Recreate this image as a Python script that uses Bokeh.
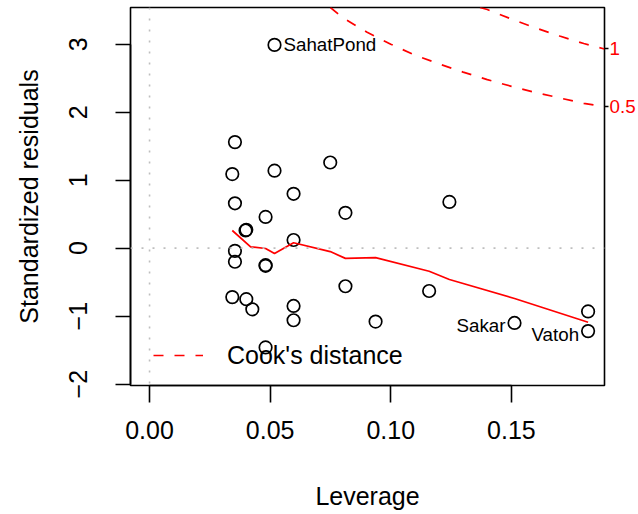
from bokeh.plotting import figure
from bokeh.models import Range1d, LinearAxis, FixedTicker, Legend, LegendItem, Span
from bokeh.embed import file_html
from bokeh.resources import INLINE
from bokeh.core.properties import value

# ---- data ----
leverage = [0.0354, 0.0343, 0.0518, 0.0749, 0.0354, 0.0597, 0.0481, 0.0812, 0.1243,
            0.0398, 0.0401, 0.0597, 0.0354, 0.0354, 0.0481, 0.0481, 0.0812, 0.1159,
            0.0343, 0.0401, 0.0426, 0.0597, 0.0597, 0.0937, 0.1513, 0.1818, 0.1818,
            0.0481, 0.0518]
std_resid = [1.56, 1.09, 1.14, 1.26, 0.66, 0.80, 0.46, 0.52, 0.68,
             0.26, 0.27, 0.12, -0.04, -0.20, -0.25, -0.26, -0.56, -0.63,
             -0.72, -0.75, -0.90, -0.85, -1.06, -1.08, -1.10, -0.93, -1.22,
             -1.46, 2.99]
labels_right = ["SahatPond"]
labels_right_idx = [28]
labels_left = ["Sakar", "Vatoh"]
labels_left_idx = [24, 26]

smooth_h = [0.0343, 0.0419, 0.0481, 0.0518, 0.0597, 0.0749, 0.0812, 0.0937, 0.1159, 0.1243, 0.1513, 0.1818]
smooth_r = [0.26, 0.02, -0.005, -0.08, 0.08, -0.05, -0.15, -0.14, -0.34, -0.46, -0.74, -1.09]

cook05_h = [0.075, 0.08, 0.09, 0.10, 0.11, 0.12, 0.13, 0.14, 0.15, 0.16, 0.17, 0.18, 0.1886]
cook05_r = [3.54, 3.39, 3.18, 3.00, 2.84, 2.71, 2.59, 2.48, 2.38, 2.29, 2.21, 2.13, 2.08]
cook1_h = [0.137, 0.14, 0.15, 0.16, 0.17, 0.18, 0.1886]
cook1_r = [3.54, 3.51, 3.37, 3.24, 3.12, 3.01, 2.93]
cook_levels = ["0.5", "1"]

x_ticks = [0.0, 0.05, 0.10, 0.15]
x_tick_labels = ["0.00", "0.05", "0.10", "0.15"]
y_ticks = [-2, -1, 0, 1, 2, 3]
y_tick_labels = ["\u22122", "\u22121", "0", "1", "2", "3"]

FONT = "Liberation Sans"

p = figure(width=638, height=514, output_backend="svg", toolbar_location=None,
           x_range=Range1d(-0.0079, 0.1886), y_range=Range1d(-2.02, 3.54),
           x_axis_location=None, y_axis_location=None,
           min_border_left=130, min_border_right=34, min_border_top=7, min_border_bottom=129)
p.grid.visible = False
p.outline_line_color = "black"
p.outline_line_width = 1.6
p.background_fill_color = "white"
p.border_fill_color = "white"

def style_axis(ax):
    ax.axis_line_color = "black"
    ax.axis_line_width = 1.6
    ax.major_tick_line_color = "black"
    ax.major_tick_line_width = 1.6
    ax.major_tick_in = 0
    ax.minor_tick_line_color = None
    ax.major_label_text_font = FONT
    ax.major_label_text_font_size = "25px"
    ax.major_label_text_color = "black"
    ax.axis_label_text_font = FONT
    ax.axis_label_text_font_size = "25px"
    ax.axis_label_text_font_style = "normal"
    ax.axis_label_text_color = "black"

xax = LinearAxis(ticker=FixedTicker(ticks=x_ticks), bounds=(x_ticks[0], x_ticks[-1]),
                 axis_label="Leverage")
xax.major_label_overrides = {t: l for t, l in zip(x_ticks, x_tick_labels)}
style_axis(xax)
xax.major_tick_out = 17
xax.major_label_standoff = 18
xax.axis_label_standoff = 40
p.add_layout(xax, "below")

yax = LinearAxis(ticker=FixedTicker(ticks=y_ticks), bounds=(y_ticks[0], y_ticks[-1]),
                 axis_label="Standardized residuals")
yax.major_label_overrides = {t: l for t, l in zip(y_ticks, y_tick_labels)}
style_axis(yax)
yax.major_tick_out = 15
yax.major_label_standoff = 28
yax.major_label_orientation = "vertical"
yax.axis_label_standoff = 24
p.add_layout(yax, "left")

# right axis with Cook's levels
rax = LinearAxis(ticker=FixedTicker(ticks=[cook05_r[-1], cook1_r[-1]]))
rax.major_label_overrides = {cook05_r[-1]: cook_levels[0], cook1_r[-1]: cook_levels[1]}
rax.axis_line_color = None
rax.major_tick_in = 0
rax.major_tick_out = 4
rax.major_tick_line_color = "black"
rax.major_tick_line_width = 1.6
rax.minor_tick_line_color = None
rax.major_label_text_color = "red"
rax.major_label_text_font = FONT
rax.major_label_text_font_size = "18.75px"
rax.major_label_standoff = 1
p.add_layout(rax, "right")

# reference lines
p.add_layout(Span(location=0, dimension="width", line_color="#BEBEBE", line_width=1.6, line_dash="2 9"))
p.add_layout(Span(location=0, dimension="height", line_color="#BEBEBE", line_width=1.6, line_dash="2 9"))

# points
p.scatter(leverage, std_resid, size=12.5, marker="circle", fill_color=None, line_color="black", line_width=1.7)

# smoother
p.line(smooth_h, smooth_r, line_color="red", line_width=1.7)

# cook's distance contours
c05 = p.line(cook05_h, cook05_r, line_color="red", line_width=1.7, line_dash="10 11")
p.line(cook1_h, cook1_r, line_color="red", line_width=1.7, line_dash="10 11")

# labels
p.text([leverage[i] for i in labels_right_idx], [std_resid[i] for i in labels_right_idx], text=labels_right,
       text_align="left", text_baseline="middle", x_offset=9, text_font=value(FONT),
       text_font_size="18.75px", text_color="black")
p.text([leverage[i] for i in labels_left_idx], [std_resid[i] for i in labels_left_idx], text=labels_left,
       text_align="right", text_baseline="middle", x_offset=-9, y_offset=3, text_font=value(FONT),
       text_font_size="18.75px", text_color="black")

legend = Legend(items=[LegendItem(label="Cook's distance", renderers=[c05])],
                location=(23, 15), padding=0, margin=0, glyph_width=50, glyph_height=30,
                label_height=30, label_standoff=24, label_text_font=FONT, label_text_color="black",
                label_text_font_size="25px", border_line_alpha=0, background_fill_alpha=0)
p.add_layout(legend, "center")

open("out.html", "w").write(file_html(p, INLINE))
